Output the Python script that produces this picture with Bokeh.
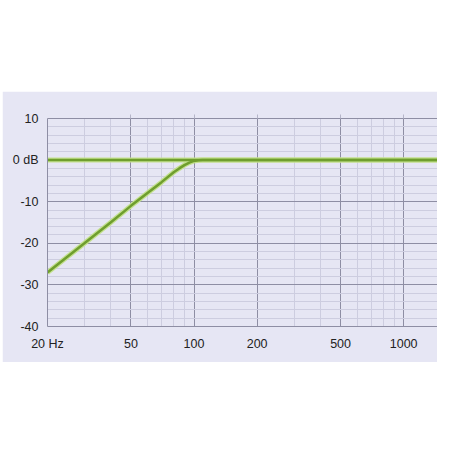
from bokeh.plotting import figure
from bokeh.models import FixedTicker, LogAxis, Range1d
from bokeh.embed import file_html
from bokeh.resources import INLINE

# Data
freq_hz = [20, 30, 40, 50, 60, 70, 80, 85, 90, 95, 100, 105, 110, 200, 500, 1000, 1450]
response_db = [-27, -20, -15, -11, -7.9, -5.3, -2.9, -2.0, -1.2, -0.6, -0.2, -0.05, 0, 0, 0, 0, 0]
ref_freq = [20, 1450]
ref_db = [0, 0]

x_major = [20, 50, 100, 200, 500, 1000]
x_minor = [30, 40, 60, 70, 80, 90, 300, 400, 600, 700, 800, 900]
x_labels = {20: "20 Hz", 50: "50", 100: "100", 200: "200", 500: "500", 1000: "1000"}
top_stubs = [50, 100, 200, 500, 1000]
y_major = [-40, -30, -20, -10, 0, 10]
y_minor = [-38, -36, -34, -32, -28, -26, -24, -22, -18, -16, -14, -12,
           -8, -6, -4, -2, 2, 4, 6, 8]
y_labels = {10: "10", 0: "0 dB", -10: "-10", -20: "-20", -30: "-30", -40: "-40"}

BG = "#e6e6f4"
MAJOR = "#8e8ea4"
MINOR = "#cdcde0"
GREEN = "#6f9e2e"
HALO = "#c3e08e"
FONT = "Liberation Sans"

p = figure(width=435, height=271, x_axis_type="log",
           x_range=Range1d(20, 1450), y_range=Range1d(-40, 10),
           output_backend="svg", toolbar_location=None,
           min_border_left=45, min_border_right=0,
           min_border_top=27, min_border_bottom=36)
p.margin = (91, 0, 0, 2)
p.background_fill_color = BG
p.border_fill_color = BG
p.outline_line_color = None

xt = FixedTicker(ticks=x_major, minor_ticks=x_minor)
yt = FixedTicker(ticks=y_major, minor_ticks=y_minor)
p.xaxis.ticker = xt
p.yaxis.ticker = yt
p.xaxis.major_label_overrides = x_labels
p.yaxis.major_label_overrides = y_labels

for ax in (p.xaxis[0], p.yaxis[0]):
    ax.major_tick_line_color = None
    ax.minor_tick_line_color = None
    ax.major_tick_out = 0
    ax.major_tick_in = 0
    ax.minor_tick_out = 0
    ax.minor_tick_in = 0
    ax.axis_line_color = MAJOR
    ax.axis_line_width = 1
    ax.major_label_text_font = FONT
    ax.major_label_text_font_size = "12.5px"
    ax.major_label_text_color = "#222222"
p.yaxis.major_label_standoff = 9
p.xaxis.major_label_standoff = 10

p.xgrid.ticker = xt
p.ygrid.ticker = yt
for g in (p.xgrid[0], p.ygrid[0]):
    g.grid_line_color = MAJOR
    g.grid_line_width = 1
    g.minor_grid_line_color = MINOR
    g.minor_grid_line_width = 1

# top border with small unlabeled stubs (minor ticks carry no labels)
top = LogAxis(ticker=FixedTicker(ticks=[], minor_ticks=top_stubs),
              major_tick_line_color=None,
              minor_tick_out=4, minor_tick_in=0,
              minor_tick_line_color="#b4b4c8",
              axis_line_color=MAJOR)
p.add_layout(top, "above")

p.line(ref_freq, ref_db, line_color=HALO, line_width=5)
p.line(freq_hz, response_db, line_color=HALO, line_width=5)
p.line(ref_freq, ref_db, line_color=GREEN, line_width=2.5)
p.line(freq_hz, response_db, line_color=GREEN, line_width=2.5)

open("out.html", "w").write(file_html(p, INLINE))
